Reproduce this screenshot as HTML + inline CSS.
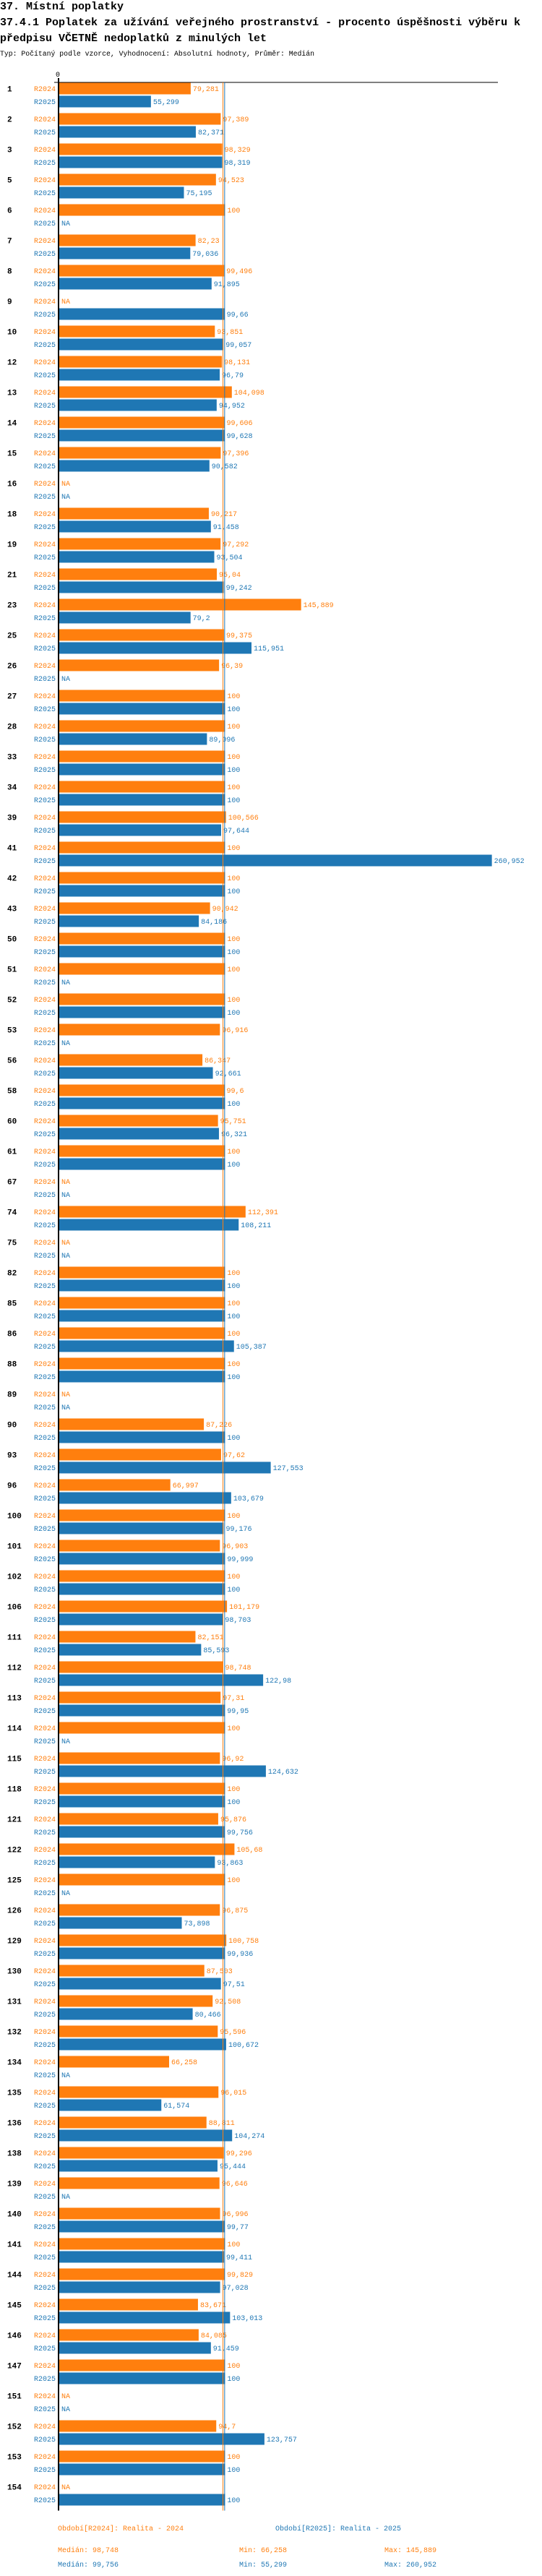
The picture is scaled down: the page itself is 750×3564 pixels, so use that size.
<!DOCTYPE html>
<html><head><meta charset="utf-8">
<style>
html,body{margin:0;padding:0;background:#fff;}
svg{display:block;}
text{font-family:"Liberation Mono","DejaVu Sans Mono",monospace;}
</style></head>
<body>
<svg id="chart" width="750" height="3564" viewBox="0 0 750 3564" xmlns="http://www.w3.org/2000/svg">
<text x="0" y="13" font-size="15" font-weight="bold" fill="#000">37. Místní poplatky</text>
<text x="0" y="35" font-size="15" font-weight="bold" fill="#000">37.4.1 Poplatek za užívání veřejného prostranství - procento úspěšnosti výběru k</text>
<text x="0" y="57" font-size="15" font-weight="bold" fill="#000">předpisu VČETNĚ nedoplatků z minulých let</text>
<text x="0" y="77" font-size="9.8" fill="#000">Typ: Počítaný podle vzorce, Vyhodnocení: Absolutní hodnoty, Průměr: Medián</text>
<g id="plot"></g>
</svg>
<script>
const groups = [1,2,3,5,6,7,8,9,10,12,13,14,15,16,18,19,21,23,25,26,27,28,33,34,39,41,42,43,50,51,52,53,56,58,60,61,67,74,75,82,85,86,88,89,90,93,96,100,101,102,106,111,112,113,114,115,118,121,122,125,126,129,130,131,132,134,135,136,138,139,140,141,144,145,146,147,151,152,153,154];
const values2024 = [79.281,97.389,98.329,94.523,100,82.23,99.496,null,93.851,98.131,104.098,99.606,97.396,null,90.217,97.292,95.04,145.889,99.375,96.39,100,100,100,100,100.566,100,100,90.942,100,100,100,96.916,86.347,99.6,95.751,100,null,112.391,null,100,100,100,100,null,87.226,97.62,66.997,100,96.903,100,101.179,82.151,98.748,97.31,100,96.92,100,95.876,105.68,100,96.875,100.758,87.503,92.508,95.596,66.258,96.015,88.811,99.296,96.646,96.996,100,99.829,83.671,84.085,100,null,94.7,100,null];
const values2025 = [55.299,82.371,98.319,75.195,null,79.036,91.895,99.66,99.057,96.79,94.952,99.628,90.582,null,91.458,93.504,99.242,79.2,115.951,null,100,89.096,100,100,97.644,260.952,100,84.186,100,null,100,null,92.661,100,96.321,100,null,108.211,null,100,100,105.387,100,null,100,127.553,103.679,99.176,99.999,100,98.703,85.593,122.98,99.95,null,124.632,100,99.756,93.863,null,73.898,99.936,97.51,80.466,100.672,null,61.574,104.274,95.444,null,99.77,99.411,97.028,103.013,91.459,100,null,123.757,100,100];
const seriesNames = ["R2024","R2025"];
const medians = [98.748, 99.756];
const mins = [66.258, 55.299];
const maxs = [145.889, 260.952];

const NS="http://www.w3.org/2000/svg";
const plot=document.getElementById('plot');
const X0=82, SCALE=2.294, TOP=114.5, PITCH=42, BARH=16, GAP=18;
const colors=["#ff7f0e","#1f77b4"];
function xScale(v){return X0+v*SCALE;}
function yGroup(i){return TOP+i*PITCH;}
function fmt(v){return String(v).replace('.',',');}
function mk(tag,attrs){const e=document.createElementNS(NS,tag);for(const k in attrs)e.setAttribute(k,attrs[k]);return e;}

const yEnd=yGroup(groups.length-1)+GAP+BARH+7;
// top line
let tl=mk('line',{x1:75,y1:114,x2:689,y2:114,stroke:'#000','stroke-width':1});


plot.appendChild(tl);
let zl=mk('text',{x:80,y:106,'font-size':10,fill:'#000','text-anchor':'middle'});


zl.textContent='0';plot.appendChild(zl);

[values2024,values2025].forEach((vals,s)=>{
  const yl=(s===0?TOP-2:yGroup(0)+GAP);
  groups.forEach((g,i)=>{
    const y=yGroup(i)+s*GAP;
    const v=vals[i];
    const lab=mk('text',{x:77,y:y+BARH/2+3.5,'font-size':10,fill:colors[s],'text-anchor':'end'});
    
    
    lab.textContent=seriesNames[s];plot.appendChild(lab);
    if(v===null){
      const na=mk('text',{x:85,y:y+BARH/2+3.5,'font-size':10,fill:colors[s]});
      
      
      na.textContent='NA';plot.appendChild(na);
    } else {
      const r=mk('rect',{x:X0,y:y,width:xScale(v)-X0,height:BARH,fill:colors[s]});
      
      
      plot.appendChild(r);
      const t=mk('text',{x:xScale(v)+3,y:y+BARH/2+3.5,'font-size':10,fill:colors[s]});
      
      
      t.textContent=fmt(v);plot.appendChild(t);
    }
  });
});
groups.forEach((g,i)=>{
  const t=mk('text',{x:10,y:yGroup(i)+BARH/2+4,'font-size':11,'font-weight':'bold',fill:'#000'});
  
  
  t.textContent=String(g);plot.appendChild(t);
});
// median lines
medians.forEach((m,s)=>{
  const l=mk('line',{x1:xScale(m),y1:114,x2:xScale(m),y2:yEnd,stroke:colors[s],'stroke-width':1});
  
  
  plot.appendChild(l);
});
// axis
const ax=mk('line',{x1:81,y1:108,x2:81,y2:yEnd,stroke:'#000','stroke-width':2});


plot.appendChild(ax);

// legend
const leg=[["Období[R2024]: Realita - 2024",80,3501,0],["Období[R2025]: Realita - 2025",381,3501,1]];
leg.forEach(d=>{
  const t=mk('text',{x:d[1],y:d[2],'font-size':10,fill:colors[d[3]]});
  
  
  t.textContent=d[0];plot.appendChild(t);
});
[0,1].forEach(s=>{
  const y=3531+s*20;
  const items=[["Medián: "+fmt(medians[s]),80],["Min: "+fmt(mins[s]),331],["Max: "+fmt(maxs[s]),532]];
  items.forEach(it=>{
    const t=mk('text',{x:it[1],y:y,'font-size':10,fill:colors[s]});
    
    
    t.textContent=it[0];plot.appendChild(t);
  });
});
</script>
</body></html>
